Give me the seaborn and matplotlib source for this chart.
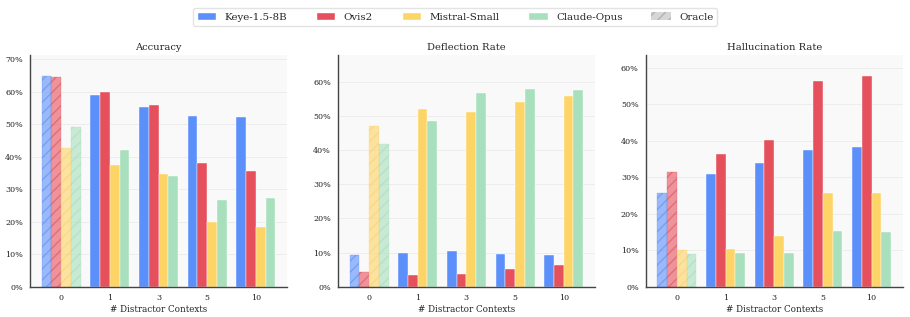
import pandas as pd
import matplotlib.pyplot as plt
import matplotlib.patches as mpatches
from matplotlib.ticker import PercentFormatter
import seaborn as sns

# ================= DATA =================
contexts = ['0', '1', '3', '5', '10']
models = ['Keye-1.5-8B', 'Ovis2', 'Mistral-Small', 'Claude-Opus']
colors = ['#5B8FF9', '#E5505C', '#FDD466', '#A8DFBC']

accuracy = {
    'Keye-1.5-8B':   [64.9, 58.9, 55.4, 52.6, 52.2],
    'Ovis2':         [64.5, 59.9, 55.9, 38.2, 35.8],
    'Mistral-Small': [42.7, 37.5, 34.7, 19.9, 18.3],
    'Claude-Opus':   [49.1, 42.2, 34.0, 26.6, 27.4],
}
deflection = {
    'Keye-1.5-8B':   [9.4, 10.0, 10.4, 9.7, 9.3],
    'Ovis2':         [4.3, 3.6, 3.7, 5.3, 6.4],
    'Mistral-Small': [47.0, 51.9, 51.0, 54.1, 55.8],
    'Claude-Opus':   [41.7, 48.4, 56.5, 57.7, 57.4],
}
hallucination = {
    'Keye-1.5-8B':   [25.8, 31.0, 34.0, 37.5, 38.4],
    'Ovis2':         [31.4, 36.4, 40.2, 56.3, 57.6],
    'Mistral-Small': [10.2, 10.4, 14.0, 25.8, 25.7],
    'Claude-Opus':   [9.1, 9.2, 9.4, 15.4, 15.0],
}

panels = [('Accuracy', accuracy, 71.3),
          ('Deflection Rate', deflection, 67.7),
          ('Hallucination Rate', hallucination, 63.4)]


def to_long(d):
    rows = []
    for m in models:
        for c, v in zip(contexts, d[m]):
            rows.append({'ctx': c, 'model': m, 'value': v})
    return pd.DataFrame(rows)


# ================= PLOT =================
sns.set_theme(style='whitegrid')
plt.rcParams['font.family'] = ['DejaVu Serif']

fig, axes = plt.subplots(1, 3, figsize=(9.1, 3.17), dpi=100)
fig.subplots_adjust(left=0.033, right=0.992, bottom=0.095, top=0.826, wspace=0.198)

for ax, (title, d, ymax) in zip(axes, panels):
    df = to_long(d)
    sns.barplot(data=df, x='ctx', y='value', hue='model', order=contexts,
                hue_order=models, palette=colors, ax=ax, width=0.8, saturation=1,
                edgecolor='white', linewidth=0.3, legend=False)
    # oracle (0 distractors) bars: hatched and faded
    for i, cont in enumerate(ax.containers):
        bar = cont.patches[0]
        bar.set_alpha(0.6)
        bar.set_hatch('///')
        bar.set_edgecolor(colors[i])
        bar.set_linewidth(0.3)
    ax.set_facecolor('#f9f9f9')
    ax.set_xlim(-0.64, 4.64)
    ax.set_ylim(0, ymax)
    ax.yaxis.set_major_formatter(PercentFormatter(decimals=0))
    ax.set_title(title, fontsize=7.1, pad=4, color='#222222')
    ax.set_xlabel('# Distractor Contexts', fontsize=6.3, labelpad=2, color='#222222')
    ax.set_ylabel('')
    ax.tick_params(axis='both', labelsize=5.8, length=3, width=0.8, colors='#333333', pad=2)
    ax.tick_params(axis='both', labelcolor='#222222')
    ax.grid(axis='y', color='#ebebeb', linewidth=0.6)
    ax.grid(axis='x', visible=False)
    for s in ['top', 'right']:
        ax.spines[s].set_visible(False)
    for s in ['left', 'bottom']:
        ax.spines[s].set_color('#444444')
        ax.spines[s].set_linewidth(1.0)

handles = [mpatches.Patch(facecolor=c, edgecolor='white', label=m) for m, c in zip(models, colors)]
handles.append(mpatches.Patch(facecolor='#cccccc', edgecolor='#aaaaaa', hatch='///',
                              alpha=0.8, linewidth=0, label='Oracle'))
fig.legend(handles=handles, loc='upper center', ncol=5, fontsize=7.4,
           bbox_to_anchor=(0.5, 0.99), frameon=True, edgecolor='#dddddd',
           handlelength=1.9, handleheight=0.7, columnspacing=2.8, handletextpad=0.8,
           borderpad=0.4)

plt.savefig('out.png', dpi=100)
